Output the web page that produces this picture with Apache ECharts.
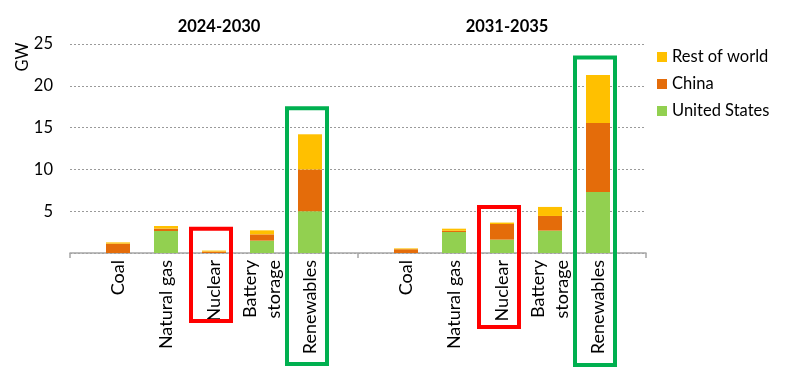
<!DOCTYPE html>
<html>
<head>
<meta charset="utf-8">
<script src="https://cdn.jsdelivr.net/npm/echarts@6/dist/echarts.min.js"></script>
<style>
  html, body { margin: 0; padding: 0; background: #ffffff; }
  #chart { width: 800px; height: 370px; }
</style>
</head>
<body>
<div id="chart"></div>
<script>
// Category slots: blank separators at both ends and between the two periods
const categories = ['', 'Coal', 'Natural gas', 'Nuclear', 'Battery\nstorage', 'Renewables',
                    '', 'Coal', 'Natural gas', 'Nuclear', 'Battery\nstorage', 'Renewables', ''];
const periodTitles = ['2024-2030', '2031-2035'];
const unitLabel = 'GW';
const seriesNames = ['United States', 'China', 'Rest of world'];
const unitedStates = [null, 0, 2.63, 0, 1.48, 5.0, null, 0, 2.51, 1.6, 2.68, 7.3, null];
const china        = [null, 1.12, 0.29, 0.17, 0.75, 5.0, null, 0.45, 0.15, 1.87, 1.75, 8.25, null];
const restOfWorld  = [null, 0.15, 0.31, 0.12, 0.48, 4.2, null, 0.1, 0.25, 0.17, 1.08, 5.75, null];
const yTicks = [0, 5, 10, 15, 20, 25];

const FONT = 'Lato, "Open Sans", sans-serif';
const colors = { 'United States': '#92D050', 'China': '#E46C0A', 'Rest of world': '#FFC000' };
const seriesData = [unitedStates, china, restOfWorld];

const chart = echarts.init(document.getElementById('chart'));

const option = {
  animation: false,
  backgroundColor: '#ffffff',
  grid: { left: 70, right: 154, top: 44, bottom: 117 },
  legend: {
    data: ['Rest of world', 'China', 'United States'],
    orient: 'vertical',
    left: 652,
    top: 42,
    itemWidth: 10,
    itemHeight: 10,
    itemGap: 7,
    icon: 'rect',
    textStyle: { fontFamily: FONT, fontSize: 16.5, color: '#000', lineHeight: 20 }
  },
  xAxis: {
    type: 'category',
    data: categories,
    boundaryGap: false,
    axisLine: { lineStyle: { color: '#A6A6A6', width: 1.5 } },
    axisTick: {
      show: true, length: 5, inside: false,
      interval: function (idx, val) { return val === ''; },
      lineStyle: { color: '#A6A6A6', width: 1.5 }
    },
    axisLabel: {
      interval: 0, rotate: 90, margin: 7,
      fontFamily: FONT, fontSize: 18, color: '#000', lineHeight: 24
    }
  },
  yAxis: {
    type: 'value',
    min: yTicks[0],
    max: yTicks[yTicks.length - 1],
    interval: 5,
    axisLine: { show: false },
    axisTick: { show: false },
    axisLabel: {
      margin: 17, fontFamily: FONT, fontSize: 16.5, color: '#000',
      formatter: function (v) { return v === 0 ? '' : String(v); }
    },
    splitLine: {
      show: true,
      lineStyle: { color: '#9A9A9A', type: [2, 2], width: 1 }
    }
  },
  series: seriesNames.map(function (name, i) {
    return {
      name: name,
      type: 'bar',
      stack: 'total',
      barWidth: 24,
      itemStyle: { color: colors[name] },
      data: seriesData[i]
    };
  })
};
chart.setOption(option);

// Group titles centred over each period, and highlight boxes, positioned via the axes
function px(cat, val) { return chart.convertToPixel({ xAxisIndex: 0, yAxisIndex: 0 }, [cat, val]); }
const groupCentres = [3, 9];
const titles = periodTitles.map(function (t, i) {
  return {
    text: t, left: px(groupCentres[i], 0)[0], top: 13, textAlign: 'center',
    textStyle: { fontFamily: FONT, fontSize: 16.5, fontWeight: 'bold', color: '#000' }
  };
});

// highlight boxes: [category index, top value (GW), bottom pixel offset below axis, colour]
const highlights = [
  [3, 2.9, 68, '#FF0000'],
  [5, 17.3, 111, '#00B050'],
  [9, 5.5, 74, '#FF0000'],
  [11, 23.4, 112, '#00B050']
];
const baseY = px(0, 0)[1];
const graphics = highlights.map(function (h) {
  const c = px(h[0], h[1]);
  const x = c[0] - 3;
  const top = c[1];
  const bottom = baseY + h[2];
  return {
    type: 'rect',
    shape: { x: x - 20, y: top, width: 40, height: bottom - top },
    style: { fill: 'none', stroke: h[3], lineWidth: 4 },
    z: 10
  };
});
graphics.push({
  type: 'text',
  x: 23, y: 57, rotation: Math.PI / 2,
  style: { text: unitLabel, fontFamily: FONT, fontSize: 16.5, fill: '#000', align: 'center', verticalAlign: 'middle' }
});

chart.setOption({ title: titles, graphic: graphics });
</script>
</body>
</html>
